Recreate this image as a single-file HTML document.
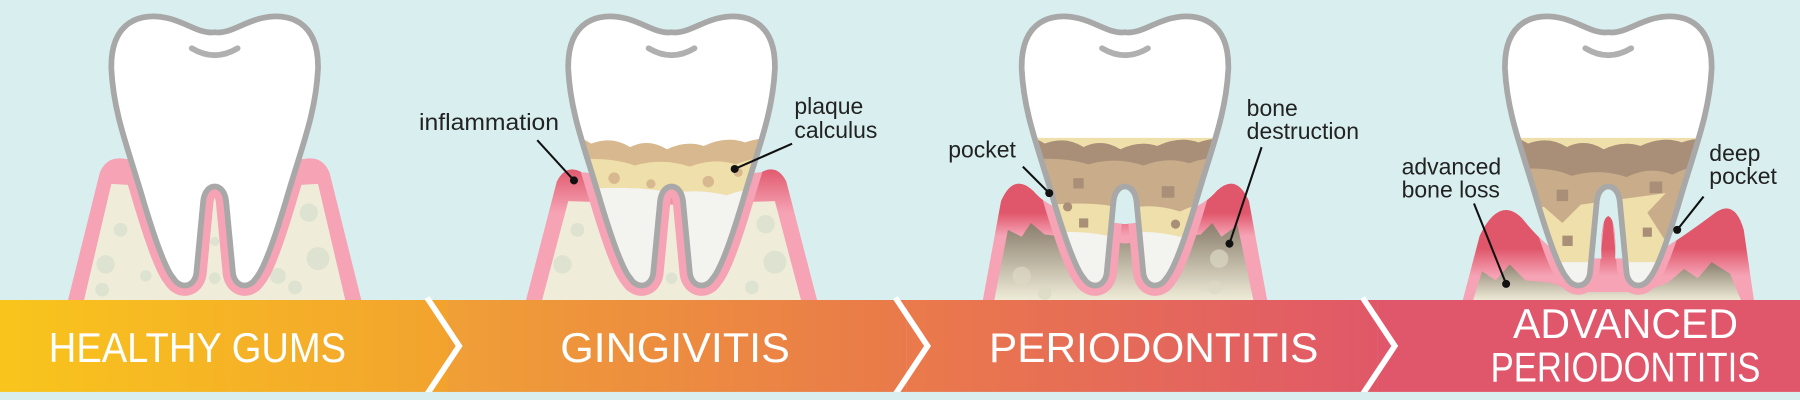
<!DOCTYPE html>
<html><head><meta charset="utf-8"><style>
html,body{margin:0;padding:0;background:#d9efef;}
svg{display:block}
text{font-family:"Liberation Sans",sans-serif;}
</style></head><body>
<svg width="1800" height="400" viewBox="0 0 1568 348" preserveAspectRatio="none" xmlns="http://www.w3.org/2000/svg">
<defs>
<path id="tooth" d="M-90,60 C-91,18 -64,10 -40,16 C-24,20 -12,30 0,28 C12,30 24,20 40,16 C64,10 91,18 90,60 C88,100 75,130 62,175 C50,215 42,235 36,242 C30,252 18,250 16,238 L10,175 C8,158 -8,158 -10,175 L-16,238 C-18,250 -30,252 -36,242 C-42,235 -50,215 -62,175 C-75,130 -88,100 -90,60 Z"/>
<clipPath id="tc"><use href="#tooth"/></clipPath>
<path id="gum1" d="M-128,262 L-100,150 Q-94,136 -80,138 L0,150 L80,138 Q94,136 100,150 L128,262 Z"/>
<path id="gum2" d="M-127,262 L-100,158 Q-92,142 -78,150 L0,158 L78,150 Q92,142 100,158 L127,262 Z"/>
<path id="gum3" d="M-124,262 L-108,175 Q-97,150 -80,166 Q-60,190 0,195 Q60,190 80,166 Q97,150 108,175 L124,262 Z"/>
<path id="gum4" d="M-127,262 L-112,205 Q-95,170 -75,190 Q-55,215 -36,225 L-6,225 Q-7,190 0,188 Q7,190 6,225 L34,225 Q60,210 92,186 Q110,172 118,200 L127,262 Z"/>
<clipPath id="cg1"><use href="#gum1"/></clipPath>
<clipPath id="cg2"><use href="#gum2"/></clipPath>
<clipPath id="cg3"><use href="#gum3"/></clipPath>
<clipPath id="cg4"><use href="#gum4"/></clipPath>
<linearGradient id="b1" x1="0" x2="1"><stop offset="0" stop-color="#f9c51c"/><stop offset="1" stop-color="#f2a22f"/></linearGradient>
<linearGradient id="b2" x1="0" x2="1"><stop offset="0" stop-color="#f09f36"/><stop offset="1" stop-color="#e9794a"/></linearGradient>
<linearGradient id="b3" x1="0" x2="1"><stop offset="0" stop-color="#ea7a4b"/><stop offset="1" stop-color="#e05868"/></linearGradient>
<linearGradient id="g2" gradientUnits="userSpaceOnUse" x1="0" y1="145" x2="0" y2="185"><stop offset="0" stop-color="#e0566a"/><stop offset="1" stop-color="#f5a3b5"/></linearGradient>
<linearGradient id="g3" gradientUnits="userSpaceOnUse" x1="0" y1="155" x2="0" y2="205"><stop offset="0" stop-color="#e0566a"/><stop offset="0.6" stop-color="#e0566a"/><stop offset="1" stop-color="#f5a3b5"/></linearGradient>
<linearGradient id="g4" gradientUnits="userSpaceOnUse" x1="0" y1="180" x2="0" y2="240"><stop offset="0" stop-color="#e0566a"/><stop offset="0.6" stop-color="#e0566a"/><stop offset="1" stop-color="#f5a3b5"/></linearGradient>
<linearGradient id="db" x1="0" y1="0" x2="0" y2="1"><stop offset="0" stop-color="#8a7d6c"/><stop offset="1" stop-color="#efedd9"/></linearGradient>
</defs>
<rect width="1568" height="348" fill="#d9efef"/>

<!-- Tooth 1 -->
<g transform="translate(187,0)">
<use href="#gum1" fill="#f5a3b5"/>
<path d="M-114,262 L-90,160 L0,165 L90,160 L114,262 Z" fill="#efedd9"/>
<g fill="#dde3d0"><circle cx="-95" cy="230" r="8"/><circle cx="-82" cy="200" r="6"/><circle cx="-98" cy="252" r="6"/><circle cx="82" cy="185" r="8"/><circle cx="90" cy="225" r="10"/><circle cx="70" cy="250" r="6"/><circle cx="0" cy="210" r="4"/><circle cx="0" cy="242" r="5"/><circle cx="-65" cy="178" r="5"/><circle cx="-60" cy="240" r="5"/><circle cx="55" cy="240" r="7"/></g>
<use href="#tooth" fill="none" stroke="#f5a3b5" stroke-width="18" clip-path="url(#cg1)"/>
<use href="#tooth" fill="#fff" stroke="#a8a8a8" stroke-width="5"/>
<path d="M-20,42 Q0,54 20,42" fill="none" stroke="#b0b0b0" stroke-width="5" stroke-linecap="round"/>
</g>

<!-- Tooth 2 -->
<g transform="translate(585,0)">
<use href="#gum2" fill="url(#g2)"/>
<path d="M-113,262 L-90,175 L0,178 L90,175 L113,262 Z" fill="#efedd9"/>
<g fill="#dde3d0"><circle cx="-95" cy="230" r="8"/><circle cx="-82" cy="200" r="6"/><circle cx="82" cy="195" r="8"/><circle cx="90" cy="228" r="10"/><circle cx="70" cy="250" r="6"/><circle cx="0" cy="242" r="5"/></g>
<use href="#tooth" fill="none" stroke="#f5a3b5" stroke-width="18" clip-path="url(#cg2)"/>
<use href="#tooth" fill="#fff"/>
<g clip-path="url(#tc)">
<rect x="-100" y="160" width="200" height="100" fill="#f3f3ef"/>
<path d="M-100,122 Q-85,115 -70,125 Q-52,118 -36,128 Q-20,120 -4,130 Q12,122 28,127 Q48,118 64,124 Q80,118 100,122 L100,168 Q72,160 48,170 Q24,164 0,168 Q-32,160 -100,166 Z" fill="#efdfaa"/>
<path d="M-100,122 Q-85,115 -70,125 Q-52,118 -36,128 Q-20,120 -4,130 Q12,122 28,127 Q48,118 64,124 Q80,118 100,122 L100,140 Q76,134 56,143 Q36,137 16,145 Q-8,137 -32,144 Q-56,135 -100,140 Z" fill="#d8b88f"/>
<g fill="#d8b88f"><circle cx="-50" cy="155" r="5"/><circle cx="-18" cy="160" r="4"/><circle cx="32" cy="158" r="5"/><circle cx="58" cy="150" r="4"/></g>
</g>
<use href="#tooth" fill="none" stroke="#a8a8a8" stroke-width="5"/>
<path d="M-20,42 Q0,54 20,42" fill="none" stroke="#b0b0b0" stroke-width="5" stroke-linecap="round"/>
</g>

<!-- Tooth 3 -->
<g transform="translate(980,0)">
<use href="#gum3" fill="url(#g3)"/>
<path d="M-114,262 L-102,200 L-90,206 L-82,194 L-70,204 L0,212 L66,204 L76,194 L84,206 L98,196 L112,262 Z" fill="url(#db)"/>
<g fill="#dcd9c4" opacity="0.7"><circle cx="-90" cy="240" r="8"/><circle cx="82" cy="225" r="8"/><circle cx="78" cy="250" r="6"/><circle cx="-70" cy="255" r="6"/></g>
<use href="#tooth" fill="none" stroke="#f5a3b5" stroke-width="18" clip-path="url(#cg3)"/>
<use href="#tooth" fill="#fff"/>
<g clip-path="url(#tc)">
<rect x="-100" y="200" width="200" height="60" fill="#f3f3ef"/>
<path d="M-100,120 L100,120 L100,208 Q72,200 48,206 Q16,198 -16,205 Q-48,198 -100,206 Z" fill="#efdfaa"/>
<path d="M-100,122 Q-85,115 -70,125 Q-52,118 -36,128 Q-20,120 -4,130 Q12,122 28,127 Q48,118 64,124 Q80,118 100,122 L100,180 Q72,172 48,184 Q24,176 0,182 Q-32,172 -100,182 Z" fill="#c9ac8a"/>
<path d="M-100,122 Q-85,115 -70,125 Q-52,118 -36,128 Q-20,120 -4,130 Q12,122 28,127 Q48,118 64,124 Q80,118 100,122 L100,140 Q76,134 56,142 Q36,136 16,144 Q-8,136 -32,143 Q-56,135 -100,140 Z" fill="#a98f78"/>
<g fill="#a98f78"><rect x="-45" y="155" width="9" height="9"/><rect x="32" y="162" width="11" height="10"/><rect x="-40" y="190" width="8" height="8"/><circle cx="-50" cy="180" r="4"/><circle cx="44" cy="195" r="4"/></g>
</g>
<use href="#tooth" fill="none" stroke="#a8a8a8" stroke-width="5"/>
<path d="M-20,42 Q0,54 20,42" fill="none" stroke="#b0b0b0" stroke-width="5" stroke-linecap="round"/>
</g>

<!-- Tooth 4 -->
<g transform="translate(1401,0)">
<use href="#gum4" fill="url(#g4)"/>
<path d="M-118,262 L-110,236 L-98,244 L-86,230 L-72,244 L-50,246 L-30,254 L30,254 L52,246 L66,234 L78,242 L90,228 L106,238 L116,262 Z" fill="url(#db)"/>
<use href="#tooth" fill="none" stroke="#f5a3b5" stroke-width="16" clip-path="url(#cg4)"/>
<use href="#tooth" fill="#fff"/>
<g clip-path="url(#tc)">
<rect x="-100" y="215" width="200" height="50" fill="#f3f3ef"/>
<path d="M-100,120 L100,120 L100,228 L-100,228 Z" fill="#efdfaa"/>
<path d="M-100,122 Q-85,115 -70,125 Q-52,118 -36,128 Q-20,120 -4,130 Q12,122 28,127 Q48,118 64,124 Q80,118 100,122 L100,200 L50,210 L34,185 L50,168 L-24,178 L-40,194 L-56,180 L-100,185 Z" fill="#c9ac8a"/>
<path d="M-100,122 Q-85,115 -70,125 Q-52,118 -36,128 Q-20,120 -4,130 Q12,122 28,127 Q48,118 64,124 Q80,118 100,122 L100,150 Q76,140 56,152 Q36,144 16,154 Q-8,146 -32,153 Q-56,142 -100,150 Z" fill="#a98f78"/>
<g fill="#a98f78"><rect x="-45" y="165" width="10" height="10"/><rect x="36" y="158" width="11" height="10"/><rect x="-40" y="205" width="9" height="9"/><rect x="30" y="198" width="8" height="8"/></g>
</g>
<use href="#tooth" fill="none" stroke="#a8a8a8" stroke-width="5"/>
<path d="M-20,42 Q0,54 20,42" fill="none" stroke="#b0b0b0" stroke-width="5" stroke-linecap="round"/>
</g>

<!-- Labels -->
<g font-size="20" fill="#222">
<text x="365" y="113" textLength="122" lengthAdjust="spacingAndGlyphs">inflammation</text>
<text x="692" y="99">plaque</text><text x="692" y="120">calculus</text>
<text x="826" y="137">pocket</text>
<text x="1086" y="101">bone</text><text x="1086" y="121">destruction</text>
<text x="1221" y="152">advanced</text><text x="1221" y="172">bone loss</text>
<text x="1489" y="140">deep</text><text x="1489" y="160">pocket</text>
</g>
<g stroke="#111" stroke-width="1.8">
<line x1="468" y1="122" x2="500" y2="157"/><line x1="690" y1="125" x2="640" y2="147"/>
<line x1="891" y1="145" x2="914" y2="168"/><line x1="1099" y1="128" x2="1071" y2="212"/>
<line x1="1284" y1="177" x2="1312" y2="247"/><line x1="1484" y1="171" x2="1461" y2="200"/>
</g>
<g fill="#111"><circle cx="500" cy="157" r="3.5"/><circle cx="640" cy="147" r="3.5"/><circle cx="914" cy="168" r="3.5"/><circle cx="1071" cy="212" r="3.5"/><circle cx="1312" cy="247" r="3.5"/><circle cx="1461" cy="200" r="3.5"/></g>

<!-- Banner -->
<rect x="0" y="261" width="400" height="80" fill="url(#b1)"/>
<rect x="390" y="261" width="400" height="80" fill="url(#b2)"/>
<rect x="790" y="261" width="410" height="80" fill="url(#b3)"/>
<rect x="1200" y="261" width="368" height="80" fill="#e0566a"/>
<g fill="none" stroke="#fff" stroke-width="5">
<polyline points="372,259 400,301 372,343"/><polyline points="780,259 808,301 780,343"/><polyline points="1187,259 1215,301 1187,343"/>
</g>
<g fill="#fff" font-size="36" text-anchor="middle">
<text x="172" y="315" textLength="259" lengthAdjust="spacingAndGlyphs">HEALTHY GUMS</text>
<text x="588" y="315" textLength="200" lengthAdjust="spacingAndGlyphs">GINGIVITIS</text>
<text x="1005" y="315" textLength="287" lengthAdjust="spacingAndGlyphs">PERIODONTITIS</text>
<text x="1416" y="294" textLength="196" lengthAdjust="spacingAndGlyphs">ADVANCED</text>
<text x="1416" y="332" textLength="235" lengthAdjust="spacingAndGlyphs">PERIODONTITIS</text>
</g>
<rect x="0" y="341" width="1568" height="7" fill="#d9efef"/>
</svg>
</body></html>
